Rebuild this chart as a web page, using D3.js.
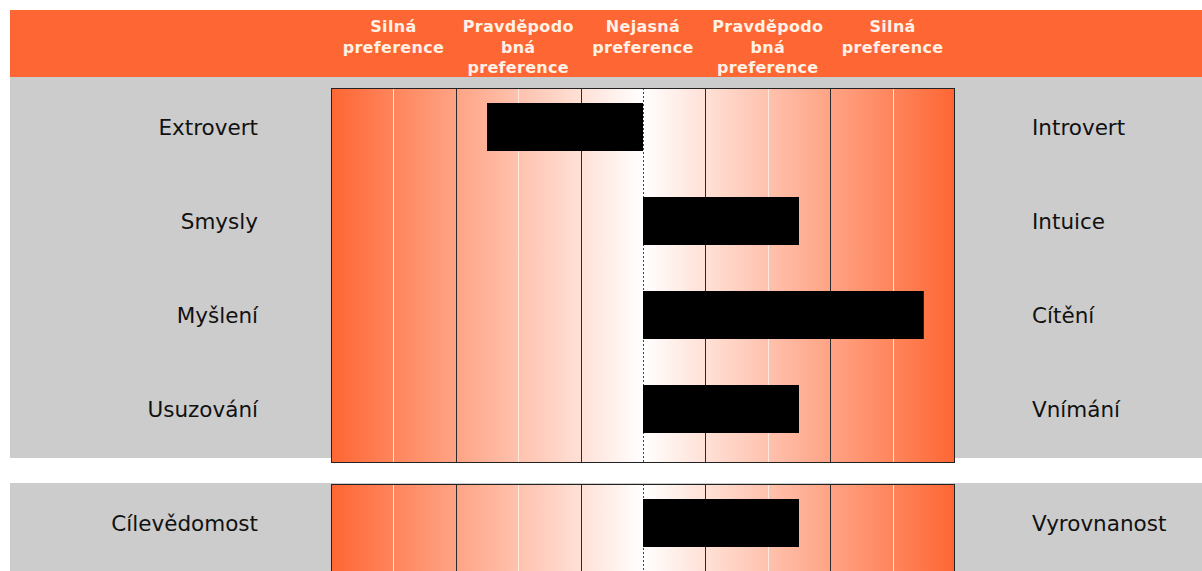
<!DOCTYPE html>
<html>
	<head>
		<meta charset = "utf-8">
		<script src = "https://cdn.jsdelivr.net/npm/d3@7"></script>
		<style>
			body { margin: 0; background: #ffffff; }
			svg { display: block; }
		</style>
	</head>
	<body>
		<script>
			"use strict";

			var leftLabels = ["Extrovert", "Smysly", "Myšlení", "Usuzování", "Cílevědomost"];
			var rightLabels = ["Introvert", "Intuice", "Cítění", "Vnímání", "Vyrovnanost"];
			var scores = [-2.5, 2.5, 4.5, 2.5, 2.5];
			var sections = [0, 0, 0, 0, 1];
			var headerLabels = [
				["Silná", "preference"],
				["Pravděpodo", "bná", "preference"],
				["Nejasná", "preference"],
				["Pravděpodo", "bná", "preference"],
				["Silná", "preference"]
			];
			var headerCenters = [-4, -2, 0, 2, 4];
			var gridTicks = [-4, -3, -2, -1, 0, 1, 2, 3, 4];

			var width = 1202, height = 571;
			var orange = "#fe6633";

			var svg = d3.select("body")
						.append("svg")
						.attr("width", width)
						.attr("height", height);

			var x = d3.scaleLinear().domain([-5, 5]).range([331, 955]);
			var yRow = d3.scaleLinear().domain([0, 1]).range([127, 221]);
			var sectionGap = 20;
			function rowY(i){ return yRow(i) + sections[i] * sectionGap; }

			// gradients: orange at the edges, white in the middle
			var defs = svg.append("defs");
			var gl = defs.append("linearGradient").attr("id", "gl")
						.attr("gradientUnits", "userSpaceOnUse")
						.attr("x1", x(-5)).attr("x2", x(0)).attr("y1", 0).attr("y2", 0);
			gl.append("stop").attr("offset", 0).attr("stop-color", orange);
			gl.append("stop").attr("offset", 1).attr("stop-color", "#ffffff");
			var gr = defs.append("linearGradient").attr("id", "gr")
						.attr("gradientUnits", "userSpaceOnUse")
						.attr("x1", x(0)).attr("x2", x(5)).attr("y1", 0).attr("y2", 0);
			gr.append("stop").attr("offset", 0).attr("stop-color", "#ffffff");
			gr.append("stop").attr("offset", 1).attr("stop-color", orange);

			// header band
			svg.append("rect")
				.attr("x", 10).attr("y", 10)
				.attr("width", width - 10).attr("height", 67)
				.attr("fill", orange);

			var head = svg.selectAll("text.head").data(headerLabels).enter().append("text")
							.attr("class", "head")
							.attr("x", function(d, i){ return x(headerCenters[i]); })
							.attr("y", 32)
							.attr("text-anchor", "middle")
							.attr("fill", "#fff1e6")
							.style("font-family", "'DejaVu Sans', Verdana, sans-serif")
							.style("font-weight", "bold")
							.style("font-size", "16px")
							.style("letter-spacing", "0.3px");
			head.selectAll("tspan").data(function(d){ return d; }).enter().append("tspan")
				.attr("x", function(){ return d3.select(this.parentNode).attr("x"); })
				.attr("dy", function(d, j){ return j === 0 ? 0 : 20.5; })
				.text(function(d){ return d; });

			// grey bands for each section
			var sectionIds = [0, 1];
			var bandTop = [77, 483];
			var bandBottom = [458, height];
			svg.selectAll("rect.band").data(sectionIds).enter().append("rect")
				.attr("class", "band")
				.attr("x", 10)
				.attr("y", function(s){ return bandTop[s]; })
				.attr("width", width - 10)
				.attr("height", function(s){ return bandBottom[s] - bandTop[s]; })
				.attr("fill", "#cccccc");

			// boxes
			var boxes = sectionIds.map(function(s){
				var rows = d3.range(scores.length).filter(function(i){ return sections[i] === s; });
				var top = rowY(rows[0]) - 39;
				var bottom = s === 0 ? rowY(rows[rows.length - 1]) + 54 : height + 10;
				return {top: top, bottom: bottom};
			});

			var box = svg.selectAll("g.box").data(boxes).enter().append("g").attr("class", "box");

			box.append("rect")
				.attr("x", x(-5)).attr("y", function(d){ return d.top; })
				.attr("width", x(0) - x(-5)).attr("height", function(d){ return d.bottom - d.top; })
				.attr("fill", "url(#gl)");
			box.append("rect")
				.attr("x", x(0)).attr("y", function(d){ return d.top; })
				.attr("width", x(5) - x(0)).attr("height", function(d){ return d.bottom - d.top; })
				.attr("fill", "url(#gr)");

			// odd ticks: dark lines, even ticks: pale lines, zero: dashed
			box.each(function(b){
				d3.select(this).selectAll("line").data(gridTicks).enter().append("line")
					.attr("x1", function(t){ return Math.round(x(t)) + 0.5; })
					.attr("x2", function(t){ return Math.round(x(t)) + 0.5; })
					.attr("y1", b.top).attr("y2", b.bottom)
					.attr("stroke", function(t){ return t === 0 ? "#444444" : (Math.abs(t) % 2 === 1 ? "#2a2a2a" : "#ffe9df"); })
					.attr("stroke-width", 1)
					.attr("stroke-dasharray", function(t){ return t === 0 ? "2,2" : null; });
			});

			box.append("rect")
				.attr("x", x(-5) + 0.5).attr("y", function(d){ return d.top + 0.5; })
				.attr("width", x(5) - x(-5) - 1).attr("height", function(d){ return d.bottom - d.top - 1; })
				.attr("fill", "none")
				.attr("stroke", "#222222")
				.attr("stroke-width", 1);

			// bars
			svg.selectAll("rect.bar").data(scores).enter().append("rect")
				.attr("class", "bar")
				.attr("x", function(d){ return x(Math.min(0, d)); })
				.attr("y", function(d, i){ return rowY(i) - 24; })
				.attr("width", function(d){ return Math.abs(x(d) - x(0)); })
				.attr("height", 48)
				.attr("fill", "#000000");

			// labels
			var labelFont = "'DejaVu Sans', Verdana, sans-serif";
			svg.selectAll("text.left").data(leftLabels).enter().append("text")
				.attr("class", "left")
				.attr("x", 258)
				.attr("y", function(d, i){ return rowY(i); })
				.attr("dy", "0.36em")
				.attr("text-anchor", "end")
				.attr("fill", "#111111")
				.style("font-family", labelFont)
				.style("font-size", "21.5px")
				.text(function(d){ return d; });

			svg.selectAll("text.right").data(rightLabels).enter().append("text")
				.attr("class", "right")
				.attr("x", 1032)
				.attr("y", function(d, i){ return rowY(i); })
				.attr("dy", "0.36em")
				.attr("text-anchor", "start")
				.attr("fill", "#111111")
				.style("font-family", labelFont)
				.style("font-size", "21.5px")
				.text(function(d){ return d; });
		</script>
	</body>
</html>
